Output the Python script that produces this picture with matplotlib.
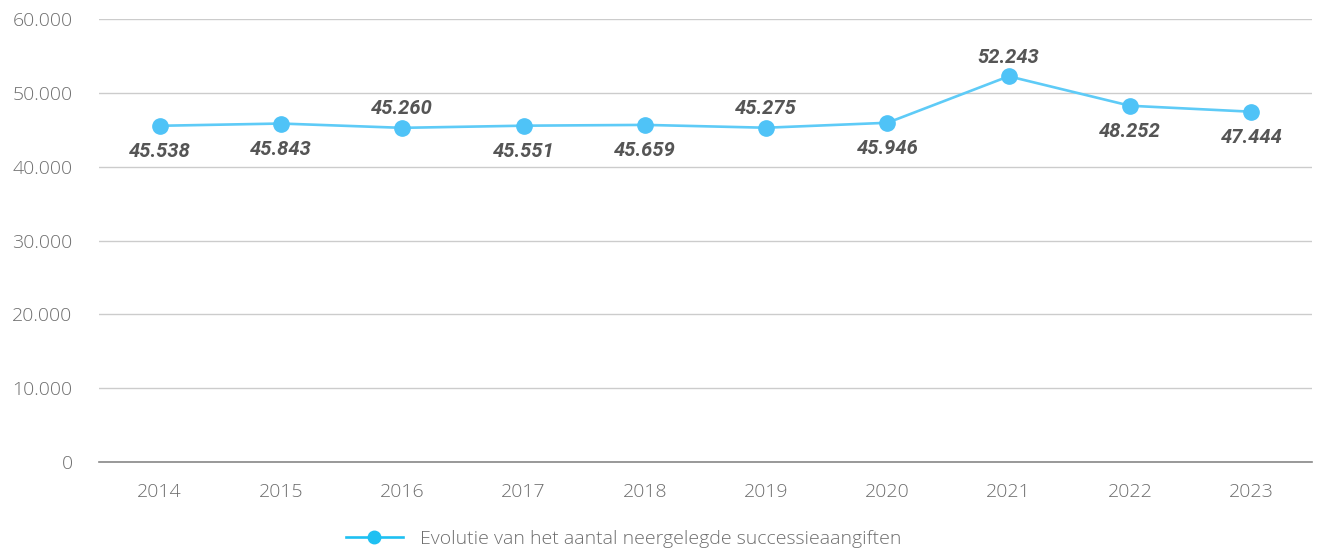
import matplotlib
matplotlib.use('Agg')
import matplotlib.pyplot as plt
from matplotlib.ticker import FuncFormatter

plt.rcParams['font.family'] = ['Open Sans', 'DejaVu Sans']

jaren = ['2014', '2015', '2016', '2017', '2018', '2019', '2020', '2021', '2022', '2023']
aangiften = [45538, 45843, 45260, 45551, 45659, 45275, 45946, 52243, 48252, 47444]
label_boven = [False, False, True, False, False, True, False, True, False, False]

def punt(v, pos=None):
    # duizendtallen met punt, zoals in het origineel
    return f'{int(v):,}'.replace(',', '.')

fig = plt.figure(figsize=(13.19, 5.51), dpi=100)
ax = fig.add_axes([0.075, 0.1615, 0.9197, 0.804])

x = list(range(len(jaren)))
ax.plot(x, aangiften, color='#5ecbf7', linewidth=1.9, marker='o', markersize=11,
        markerfacecolor='#4fc3f7', markeredgecolor='#4fc3f7', zorder=3,
        label='Evolutie van het aantal neergelegde successieaangiften')

for i, v in enumerate(aangiften):
    if label_boven[i]:
        ax.annotate(punt(v), (i, v), xytext=(0, 7), textcoords='offset points',
                    ha='center', va='bottom', fontsize=14.5, fontweight='bold',
                    fontstyle='italic', color='#555555', family=['Roboto', 'DejaVu Sans'])
    else:
        ax.annotate(punt(v), (i, v), xytext=(0, -11.5), textcoords='offset points',
                    ha='center', va='top', fontsize=14.5, fontweight='bold',
                    fontstyle='italic', color='#555555', family=['Roboto', 'DejaVu Sans'])

ax.set_xlim(-0.5, len(jaren) - 0.5)
ax.set_ylim(0, 60000)
ax.set_yticks(range(0, 60001, 10000))
ax.yaxis.set_major_formatter(FuncFormatter(punt))
ax.set_xticks(x)
ax.set_xticklabels(jaren)
ax.tick_params(axis='both', length=0, labelsize=14, labelcolor='#6e6e6e')
ax.tick_params(axis='x', pad=15)
ax.tick_params(axis='y', pad=19)
for lab in ax.get_xticklabels() + ax.get_yticklabels():
    lab.set_fontweight('light')

ax.grid(axis='y', color='#cccccc', linewidth=1)
ax.set_axisbelow(True)
for s in ['top', 'right', 'left']:
    ax.spines[s].set_visible(False)
ax.spines['bottom'].set_color('#888888')
ax.spines['bottom'].set_linewidth(1.2)

leg = fig.legend(loc='center', bbox_to_anchor=(0.473, 0.022), frameon=False,
                 fontsize=14, handlelength=2.9, handletextpad=0.9)
leg.get_lines()[0].set_color('#1ec0f2')
leg.get_lines()[0].set_markerfacecolor('#1ec0f2')
leg.get_lines()[0].set_markeredgecolor('#1ec0f2')
leg.get_lines()[0].set_markersize(9)
for t in leg.get_texts():
    t.set_color('#6e6e6e')
    t.set_fontweight('light')

fig.savefig('out.png', dpi=100)
